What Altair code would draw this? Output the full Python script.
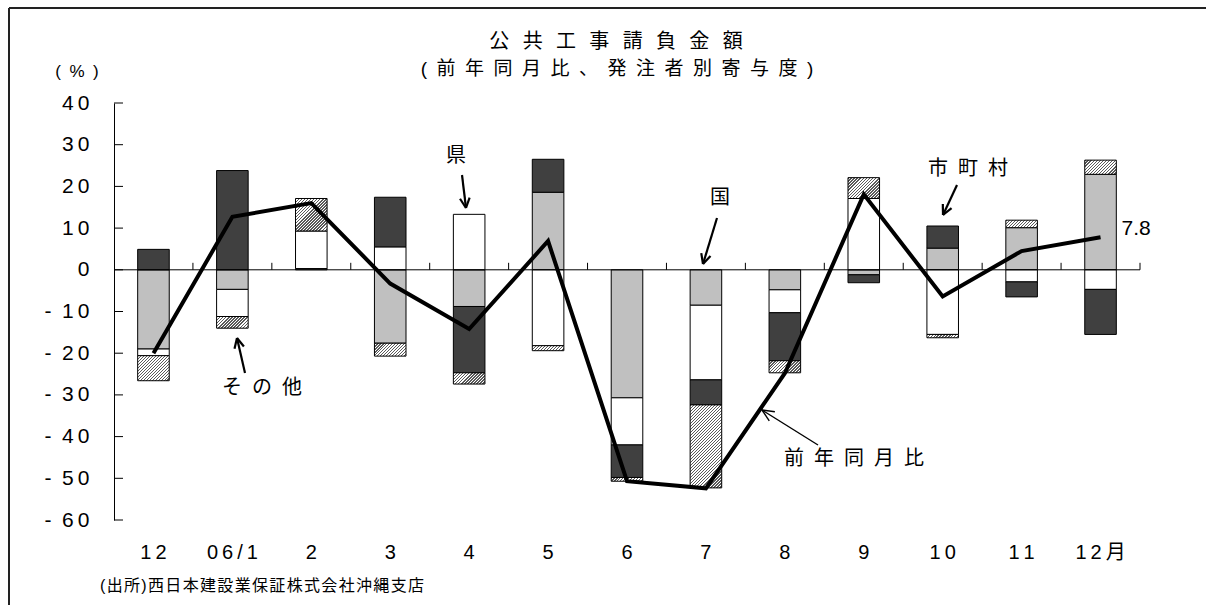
import math
import altair as alt

# --- data -----------------------------------------------------------------
months = ["12", "06/1", "2", "3", "4", "5", "6", "7", "8", "9", "10", "11", "12月"]

# contributions to the year-on-year change, by ordering party (percentage points)
kuni = [-19.0, -4.7, 0.3, -17.6, -8.8, 18.6, -30.7, -8.5, -4.8, -1.2, 5.2, 10.1, 22.9]      # 国
ken = [-1.6, -6.5, 9.0, 5.5, 13.3, -18.2, -11.3, -17.9, -5.5, 17.1, -15.5, -2.9, -4.7]     # 県
shichoson = [4.9, 23.8, 0.0, 11.9, -15.9, 7.9, -7.8, -6.0, -11.5, -1.9, 5.3, -3.6, -10.8]   # 市町村
sonota = [-6.0, -2.8, 7.8, -3.1, -2.7, -1.2, -0.9, -19.9, -2.9, 5.0, -0.8, 1.8, 3.4]        # その他

# total, year-on-year (%)
yoy = [-20.0, 12.7, 16.0, -3.3, -14.2, 6.9, -50.7, -52.4, -24.8, 18.1, -6.4, 4.5, 7.8]

series_names = ["国", "県", "市町村", "その他"]
series_values = [kuni, ken, shichoson, sonota]

# --- layout ---------------------------------------------------------------
W, H = 1026, 417
LEFT, TOP = 114, 103
Y_MIN, Y_MAX = -60, 40
PX_PER_UNIT = H / (Y_MAX - Y_MIN)
STEP = W / len(months)
BAR_W = STEP * 0.4
ZERO_PX = Y_MAX * PX_PER_UNIT

LATIN = "Liberation Sans"
MIXED = "Liberation Sans, Noto Sans CJK JP"
EN = "\u2002"
THIN = "\u2009"
SIXTH = "\u2006"
HAIR = "\u200a"


def hatch(value):
    """Fine upward-diagonal hatching as a hard-stop linear gradient sized to the segment."""
    h = max(abs(value) * PX_PER_UNIT, 1.0)
    w = BAR_W
    k = (w + h) / (w * w + h * h)
    n = max(int(round((w + h) / 3.0)), 1)
    stops = []
    for i in range(n):
        a, b, c = i / n, (i + 0.5) / n, (i + 1) / n
        stops += [
            {"offset": a, "color": "#5a5a5a"},
            {"offset": b, "color": "#5a5a5a"},
            {"offset": b, "color": "#ffffff"},
            {"offset": c, "color": "#ffffff"},
        ]
    return {"gradient": "linear", "x1": 0, "y1": 0, "x2": k * w, "y2": k * h, "stops": stops}


plain_fill = {"国": "#c0c0c0", "県": "#ffffff", "市町村": "#404040"}

records = []
for i, m in enumerate(months):
    for j, (name, vals) in enumerate(zip(series_names, series_values)):
        v = vals[i]
        if v == 0:
            continue
        records.append({
            "month": m,
            "series": name,
            "order": j,
            "value": v,
            "fill": hatch(v) if name == "その他" else plain_fill[name],
        })

line_records = [{"month": m, "yoy": v} for m, v in zip(months, yoy)]

x_scale = alt.Scale(domain=months, paddingInner=0.6, paddingOuter=0.3)
y_scale = alt.Scale(domain=[Y_MIN, Y_MAX], nice=False, zero=False)

y_axis = alt.Axis(
    values=list(range(Y_MIN, Y_MAX + 1, 10)),
    ticks=False, tickSize=0, grid=False,
    domain=True, domainColor="black", domainWidth=1,
    labelFont=LATIN, labelFontSize=21, labelColor="black", labelPadding=25,
    labelExpr="(datum.value < 0 ? '-" + EN + "' : '') + join(split(toString(abs(datum.value)), ''), '" + THIN + "')",
    title=None,
)
x_axis = alt.Axis(
    domain=False, ticks=False, grid=False, labelAngle=0,
    labelFont=MIXED, labelFontSize=20, labelColor="black", labelPadding=22,
    labelExpr="join(split(datum.label, ''), '" + THIN + "')",
    title=None,
)

X = alt.X("month:N", sort=months, scale=x_scale, axis=x_axis)

bars = alt.Chart(alt.Data(values=records)).transform_stack(
    stack="value",
    groupby=["month"],
    sort=[alt.SortField("order", order="ascending")],
    as_=["v0", "v1"],
    offset="zero",
).mark_bar(stroke="black", strokeWidth=1).encode(
    x=X,
    y=alt.Y("v0:Q", scale=y_scale, axis=y_axis),
    y2="v1:Q",
    fill=alt.Fill("fill:N", scale=None),
)

# zero line across the plot
zero_line = alt.Chart(alt.Data(values=[{"v": 0}])).mark_rule(color="black", strokeWidth=1).encode(
    y=alt.Y("v:Q", scale=y_scale, axis=y_axis),
    x=alt.value(0),
    x2=alt.value(W),
)

# inward ticks on the value axis
y_ticks = alt.Chart(alt.Data(values=[{"v": v} for v in range(Y_MIN, Y_MAX + 1, 10)])).mark_rule(
    color="black", strokeWidth=1
).encode(
    y=alt.Y("v:Q", scale=y_scale, axis=y_axis),
    x=alt.value(0),
    x2=alt.value(9),
)

# year-on-year line
line = alt.Chart(alt.Data(values=line_records)).mark_line(color="black", strokeWidth=4).encode(
    x=X,
    y=alt.Y("yoy:Q", scale=y_scale, axis=y_axis),
)

last_label = alt.Chart(alt.Data(values=line_records)).transform_filter(
    alt.datum.month == months[-1]
).mark_text(font=LATIN, fontSize=21, align="left", baseline="middle", dx=21, dy=-8, color="black").encode(
    x=X,
    y=alt.Y("yoy:Q", scale=y_scale, axis=y_axis),
    text=alt.Text("yoy:Q", format=".1f"),
)

# --- decorations in pixel space ---------------------------------------------
segments = []


def seg(x1, y1, x2, y2, sw=1.0, color="black"):
    segments.append({"x": x1 - LEFT, "y": y1 - TOP, "x2": x2 - LEFT, "y2": y2 - TOP, "sw": sw, "c": color})


def arrow(tx, ty, hx, hy, sw=2.2, head=11, spread=26):
    seg(tx, ty, hx, hy, sw)
    ang = math.atan2(ty - hy, tx - hx)
    for s in (-1, 1):
        a = ang + s * math.radians(spread)
        seg(hx, hy, hx + head * math.cos(a), hy + head * math.sin(a), sw)


# frame (top and left edges)
seg(9, 8, 1206, 8, 2, "#222222")
seg(9, 8, 9, 605, 2, "#222222")

# category separators rising from the zero line
for k in range(1, len(months) + 1):
    segments.append({"x": k * STEP, "y": ZERO_PX - 7, "x2": k * STEP, "y2": ZERO_PX, "sw": 1, "c": "black"})

arrow(462, 175, 466, 208)        # 県
arrow(245, 373, 237, 338)        # その他
arrow(717, 218, 703, 264)        # 国
arrow(957, 185, 943, 215)        # 市町村
arrow(818, 445, 762, 410, sw=1.4, head=13, spread=24)  # 前年同月比

rules = alt.Chart(alt.Data(values=segments)).mark_rule().encode(
    x=alt.X("x:Q", scale=None, axis=None),
    y=alt.Y("y:Q", scale=None, axis=None),
    x2="x2:Q",
    y2="y2:Q",
    strokeWidth=alt.StrokeWidth("sw:Q", scale=None),
    color=alt.Color("c:N", scale=None),
)


def spaced(s, sep):
    return sep.join(s)


labels = [
    (spaced("公共工事請負金額", EN + SIXTH), 616, 42, 20),
    (spaced("(前年同月比、発注者別寄与度)", EN), 617, 69, 19),
    (spaced("(%)", EN), 77, 72, 17),
    ("県", 456, 156, 20),
    (spaced("その他", EN), 262, 388, 20),
    ("国", 720, 198, 20),
    (spaced("市町村", EN), 968, 169, 20),
    (spaced("前年同月比", EN), 854, 459, 20),
]
label_records = [{"t": t, "x": x - LEFT, "y": y - TOP, "fs": fs} for t, x, y, fs in labels]

texts = alt.Chart(alt.Data(values=label_records)).mark_text(
    font=MIXED, align="center", baseline="middle", color="black"
).encode(
    x=alt.X("x:Q", scale=None, axis=None),
    y=alt.Y("y:Q", scale=None, axis=None),
    text="t:N",
    size=alt.Size("fs:Q", scale=None),
)

source = alt.Chart(alt.Data(values=[{
    "t": spaced("(出所)西日本建設業保証株式会社沖縄支店", HAIR), "x": 100 - LEFT, "y": 586 - TOP
}])).mark_text(font=MIXED, fontSize=16, align="left", baseline="middle", color="black").encode(
    x=alt.X("x:Q", scale=None, axis=None),
    y=alt.Y("y:Q", scale=None, axis=None),
    text="t:N",
)

chart = alt.layer(bars, zero_line, y_ticks, line, last_label, rules, texts, source).properties(
    width=W,
    height=H,
    padding={"left": LEFT, "top": TOP, "right": 1206 - LEFT - W, "bottom": 605 - TOP - H},
    autosize=alt.AutoSizeParams(type="none"),
    background="white",
).configure_view(stroke=None)

chart.save("out.html", embed_options={"renderer": "svg", "actions": False})
